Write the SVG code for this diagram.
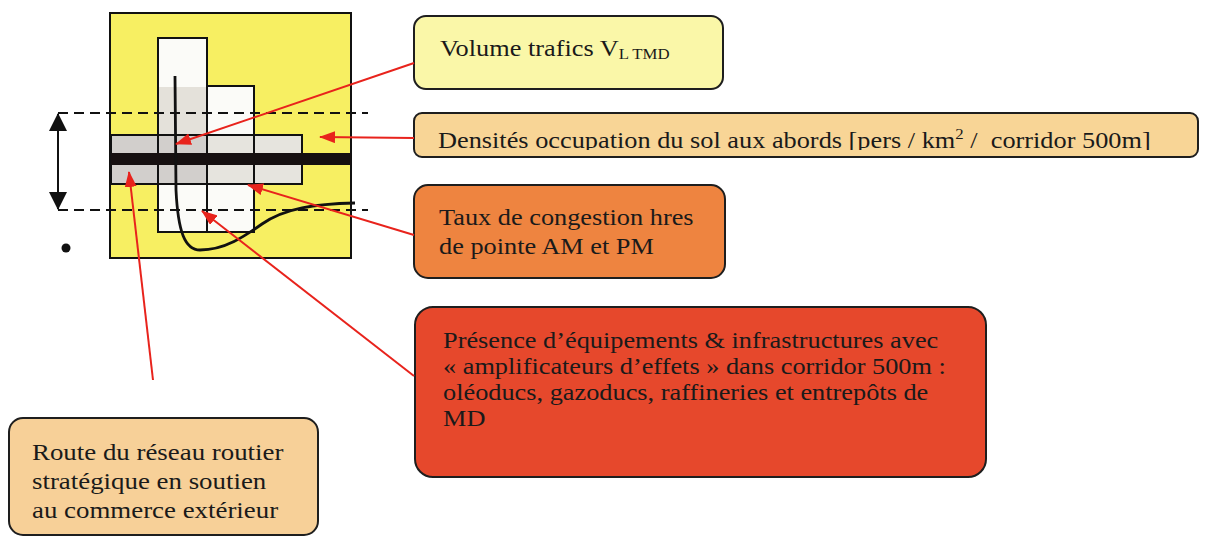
<svg xmlns="http://www.w3.org/2000/svg" width="1205" height="536" viewBox="0 0 1205 536">
  <style>
    .box { stroke: #1e1e1e; stroke-width: 2; }
    .lbl { font-family: "Liberation Serif", "Times New Roman", serif; font-size: 23.5px; fill: #1a1a1a; }
    .sub { font-size: 15px; }
    .ink { fill: none; stroke: #111; stroke-width: 2.8; }
    .dash { fill: none; stroke: #111; stroke-width: 2.2; stroke-dasharray: 10 6; }
    .red { fill: none; stroke: #e8231c; stroke-width: 2; marker-end: url(#redHead); }
  </style>
  <defs>
    <marker id="redHead" viewBox="0 0 16 12" refX="15" refY="6" markerWidth="16" markerHeight="12" markerUnits="userSpaceOnUse" orient="auto">
      <path d="M0,0 L16,6 L0,12 z" fill="#e8231c"/>
    </marker>
    <marker id="blackHead" viewBox="0 0 18 18" refX="17" refY="9" markerWidth="18" markerHeight="18" markerUnits="userSpaceOnUse" orient="auto-start-reverse">
      <path d="M0,0 L18,9 L0,18 z" fill="#111"/>
    </marker>
    <clipPath id="clipDens">
      <rect x="414" y="113" width="784" height="37"/>
    </clipPath>
  </defs>

  <rect width="1205" height="536" fill="#ffffff"/>

  <!-- corridor sketch -->
  <g id="corridor">
    <rect x="110" y="13" width="241" height="245" fill="#f7ef62" stroke="#111" stroke-width="2"/>
    <!-- built-up blocks -->
    <rect x="158" y="38" width="49" height="194" fill="#fbfbf8" stroke="#111" stroke-width="2"/>
    <rect x="207" y="86" width="47" height="146" fill="#fbfbf8" stroke="#111" stroke-width="2"/>
    <rect x="159" y="87" width="47" height="48" fill="#e4e1da"/>
    <!-- density band -->
    <rect x="111" y="135" width="96" height="49" fill="#d2cfcc"/>
    <rect x="207" y="135" width="95" height="49" fill="#e6e4de"/>
    <rect x="111" y="135" width="191" height="49" fill="none" stroke="#111" stroke-width="2"/>
    <line x1="158" y1="135" x2="158" y2="184" stroke="#111" stroke-width="2"/>
    <line x1="207" y1="135" x2="207" y2="184" stroke="#111" stroke-width="2"/>
    <line x1="254" y1="135" x2="254" y2="184" stroke="#111" stroke-width="2"/>
    <!-- road -->
    <rect x="111" y="153" width="240" height="12" fill="#161010"/>
    <!-- traffic curve -->
    <path class="ink" d="M175,76 L176,190 C178,232 185,250 200,250 C225,250 245,236 262,224 C285,208 315,204 355,203"/>
  </g>

  <!-- corridor limits -->
  <g id="limits">
    <line class="dash" x1="58" y1="113" x2="368" y2="113"/>
    <line class="dash" x1="58" y1="210" x2="368" y2="210"/>
    <line x1="58" y1="114" x2="58" y2="209" stroke="#111" stroke-width="2" marker-start="url(#blackHead)" marker-end="url(#blackHead)"/>
    <circle cx="66" cy="248" r="4.5" fill="#111"/>
  </g>

  <!-- labels -->
  <g id="volume">
    <rect class="box" x="414" y="16" width="309" height="73" rx="12" fill="#faf7a8"/>
    <text class="lbl" transform="translate(440,56) scale(1.12,1)">Volume trafics V<tspan class="sub" dy="3">L TMD</tspan></text>
  </g>

  <g id="densite">
    <rect class="box" x="414" y="113" width="784" height="44" rx="8" fill="#f8d596"/>
    <g clip-path="url(#clipDens)">
      <text class="lbl" transform="translate(438,148) scale(1.12,1)">Densités occupation du sol aux abords [pers / km<tspan class="sub" dy="-9">2</tspan><tspan dy="9" xml:space="preserve"> /  corridor 500m]</tspan></text>
    </g>
  </g>

  <g id="congestion">
    <rect class="box" x="414" y="185" width="311" height="93" rx="14" fill="#ee8440"/>
    <text class="lbl" transform="translate(439,225) scale(1.12,1)"><tspan x="0" y="0">Taux de congestion hres</tspan><tspan x="0" y="29">de pointe AM et PM</tspan></text>
  </g>

  <g id="equipements">
    <rect class="box" x="415" y="307" width="571" height="170" rx="18" fill="#e6482c"/>
    <text class="lbl" transform="translate(443,348) scale(1.12,1)"><tspan x="0" y="0">Présence d’équipements &amp; infrastructures avec</tspan><tspan x="0" y="26">« amplificateurs d’effets » dans corridor 500m :</tspan><tspan x="0" y="52">oléoducs, gazoducs, raffineries et entrepôts de</tspan><tspan x="0" y="78">MD</tspan></text>
  </g>

  <g id="route">
    <rect class="box" x="9" y="418" width="309" height="117" rx="14" fill="#f7d098"/>
    <text class="lbl" style="font-size:24px" transform="translate(32,460) scale(1.12,1)"><tspan x="0" y="0">Route du réseau routier</tspan><tspan x="0" y="29">stratégique en soutien</tspan><tspan x="0" y="58">au commerce extérieur</tspan></text>
  </g>

  <!-- connectors -->
  <g id="connectors">
    <line class="red" x1="414" y1="63" x2="176" y2="144"/>
    <line class="red" x1="414" y1="138" x2="320" y2="137"/>
    <line class="red" x1="414" y1="235" x2="248" y2="185"/>
    <line class="red" x1="414" y1="376" x2="202" y2="211"/>
    <line class="red" x1="153" y1="380" x2="129" y2="172"/>
  </g>
</svg>
